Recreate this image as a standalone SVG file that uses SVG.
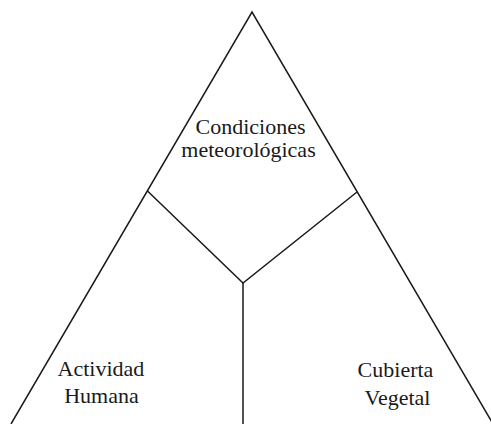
<svg xmlns="http://www.w3.org/2000/svg" width="491" height="424" viewBox="0 0 491 424">
<style>
.ln{stroke:#1a1a1a;stroke-width:1.5;fill:none;stroke-linejoin:miter}
.t{font-family:"Liberation Serif","Times New Roman",serif;font-size:22px;fill:#1a1a1a;text-anchor:middle}
</style>
<rect width="491" height="424" fill="#fff"/>
<g id="connectors">
<path class="ln" d="M11,424 L252,12 L493,424"/>
<path class="ln" d="M147.5,191 L243,283 L357,192"/>
<path class="ln" d="M243,283 L243,424"/>
</g>
<g id="node-condiciones"><text class="t" x="250.5" y="133.5">Condiciones</text><text class="t" x="248.5" y="156.5">meteorológicas</text></g>
<g id="node-actividad"><text class="t" x="101" y="376">Actividad</text><text class="t" x="101.5" y="403">Humana</text></g>
<g id="node-cubierta"><text class="t" x="395.5" y="377">Cubierta</text><text class="t" x="397.5" y="405">Vegetal</text></g>
</svg>
